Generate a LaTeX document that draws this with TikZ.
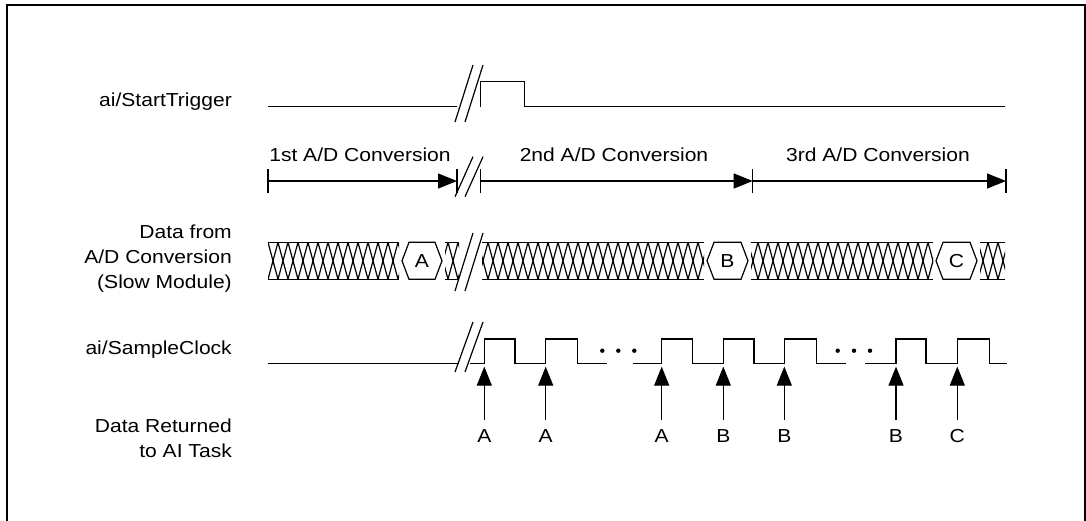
\documentclass[tikz,border=0pt]{standalone}
\usepackage{fontspec}
\setmainfont{Liberation Sans}[FakeStretch=1.12]
\usetikzlibrary{arrows.meta}
\newcommand\brkmark[2]{% center y, half height
  \draw[sig] (455,#1+#2) -- (473,#1-#2);
  \draw[sig] (465,#1+#2) -- (483,#1-#2);
}
\newcommand\xsec[2]{% start x, end x
  \begin{scope}
    \clip (#1,242.3) rectangle (#2,279.3);
    \foreach \k in {248,258,...,1028} {
      \draw[sig] (\k,242.3) -- ++(10,37);
      \draw[sig] (\k,242.3) -- ++(-10,37);
    }
  \end{scope}
  \draw[sig] (#1,242.3) -- (#2,242.3) (#1,279.3) -- (#2,279.3);
}
\newcommand\hexval[5]{% name, L, R, s, text
  \draw[sig] (#2,260.8) -- (#2+#4,242.3) -- (#3-#4,242.3) -- (#3,260.8) -- (#3-#4,279.3) -- (#2+#4,279.3) -- cycle;
  \node[lbl] (#1) at ({(#2+#3)/2},260.8) {#5};
}
\begin{document}
\begin{tikzpicture}[x=1pt,y=-1pt,
  sig/.style={line width=1.2pt},
  lbl/.style={font=\fontsize{18.8}{22}\selectfont, inner sep=0pt},
  conv/.style={-{Triangle[length=19pt,width=15pt]}, line width=1.2pt},
  tick/.style={line width=1.2pt},
  dot/.style={fill=black, draw=none},
]
\useasboundingbox (0,0) rectangle (1086,520);
\clip (0,0) rectangle (1086,520);
\fill[white] (0,0) rectangle (1086,520);
% frame
\draw[line width=2.5pt] (7,530) -- (7,5) -- (1085,5) -- (1085,530);

% left labels
\node[lbl, anchor=base east] (lst) at (232,106.7) {ai/StartTrigger};
\node[lbl, anchor=base east] (ld1) at (232,238) {Data from};
\node[lbl, anchor=base east] (ld2) at (232,263) {A/D Conversion};
\node[lbl, anchor=base east] (ld3) at (232,288.3) {(Slow Module)};
\node[lbl, anchor=base east] (lsc) at (232,354) {ai/SampleClock};
\node[lbl, anchor=base east] (lr1) at (232,432.7) {Data Returned};
\node[lbl, anchor=base east] (lr2) at (232,457.7) {to AI Task};

% start trigger
\draw[sig] (268,106.7) -- (457,106.7);
\draw[sig] (480.3,106.7) -- (480.3,81.7) -- (524.3,81.7) -- (524.3,106.7) -- (1005,106.7);
\brkmark{93.5}{28.5}

% conversion arrows
\node[lbl, anchor=base] (c1) at (360,161.7) {1st A/D Conversion};
\node[lbl, anchor=base] (c2) at (614,161.7) {2nd A/D Conversion};
\node[lbl, anchor=base] (c3) at (878,161.7) {3rd A/D Conversion};
\coordinate (k0) at (268,181);
\coordinate (k1) at (457,181);
\coordinate (k2) at (480.3,181);
\coordinate (k3) at (752.7,181);
\coordinate (k4) at (1006,181);
\foreach \c in {k0,k1,k2,k3,k4} \draw[tick] (\c) ++(0,-12) -- ++(0,24);
\draw[conv] (k0) -- (k1);
\draw[conv] (k2) -- (k3);
\draw[conv] (k3) -- (k4);
\brkmark{176.7}{20}

% data bus
\xsec{268}{399}
\hexval{hA}{402}{442}{7}{A}
\xsec{445}{459}
\brkmark{262}{29}
\xsec{482}{704}
\hexval{hB}{707}{748}{7}{B}
\xsec{751}{933}
\hexval{hC}{936}{977}{7}{C}
\xsec{980}{1005}

% sample clock
\draw[sig] (268,363.3) -- (459,363.3);
\draw[sig] (470,363.3) -- (484.3,363.3) -- (484.3,339) -- (515,339) -- (515,363.3) -- (545.7,363.3) -- (545.7,339) -- (577.3,339) -- (577.3,363.3) -- (606.7,363.3);
\draw[sig] (632.7,363.3) -- (661.7,363.3) -- (661.7,339) -- (692.3,339) -- (692.3,363.3) -- (723.3,363.3) -- (723.3,339) -- (754,339) -- (754,363.3) -- (784.3,363.3) -- (784.3,339) -- (816.7,339) -- (816.7,363.3) -- (846,363.3);
\draw[sig] (865,363.3) -- (896,363.3) -- (896,339) -- (926,339) -- (926,363.3) -- (957.3,363.3) -- (957.3,339) -- (989.3,339) -- (989.3,363.3) -- (1006.7,363.3);
\foreach \x in {602.3,618.3,634.3,837.7,854,870} \fill[dot] (\x,350.7) circle (2.2pt);
\brkmark{347}{25}

% returned data arrows
\foreach \x/\t/\n in {484.3/A/1,545.7/A/2,661.7/A/3,723.3/B/4,784.3/B/5,896/B/6,957.3/C/7} {
  \node[lbl, anchor=base] (r\n) at (\x,442.7) {\t};
  \coordinate (t\n) at (\x,366.6);
  \draw[conv] (r\n.north) ++(0,-9.5) -- (t\n);
}
\end{tikzpicture}
\end{document}
